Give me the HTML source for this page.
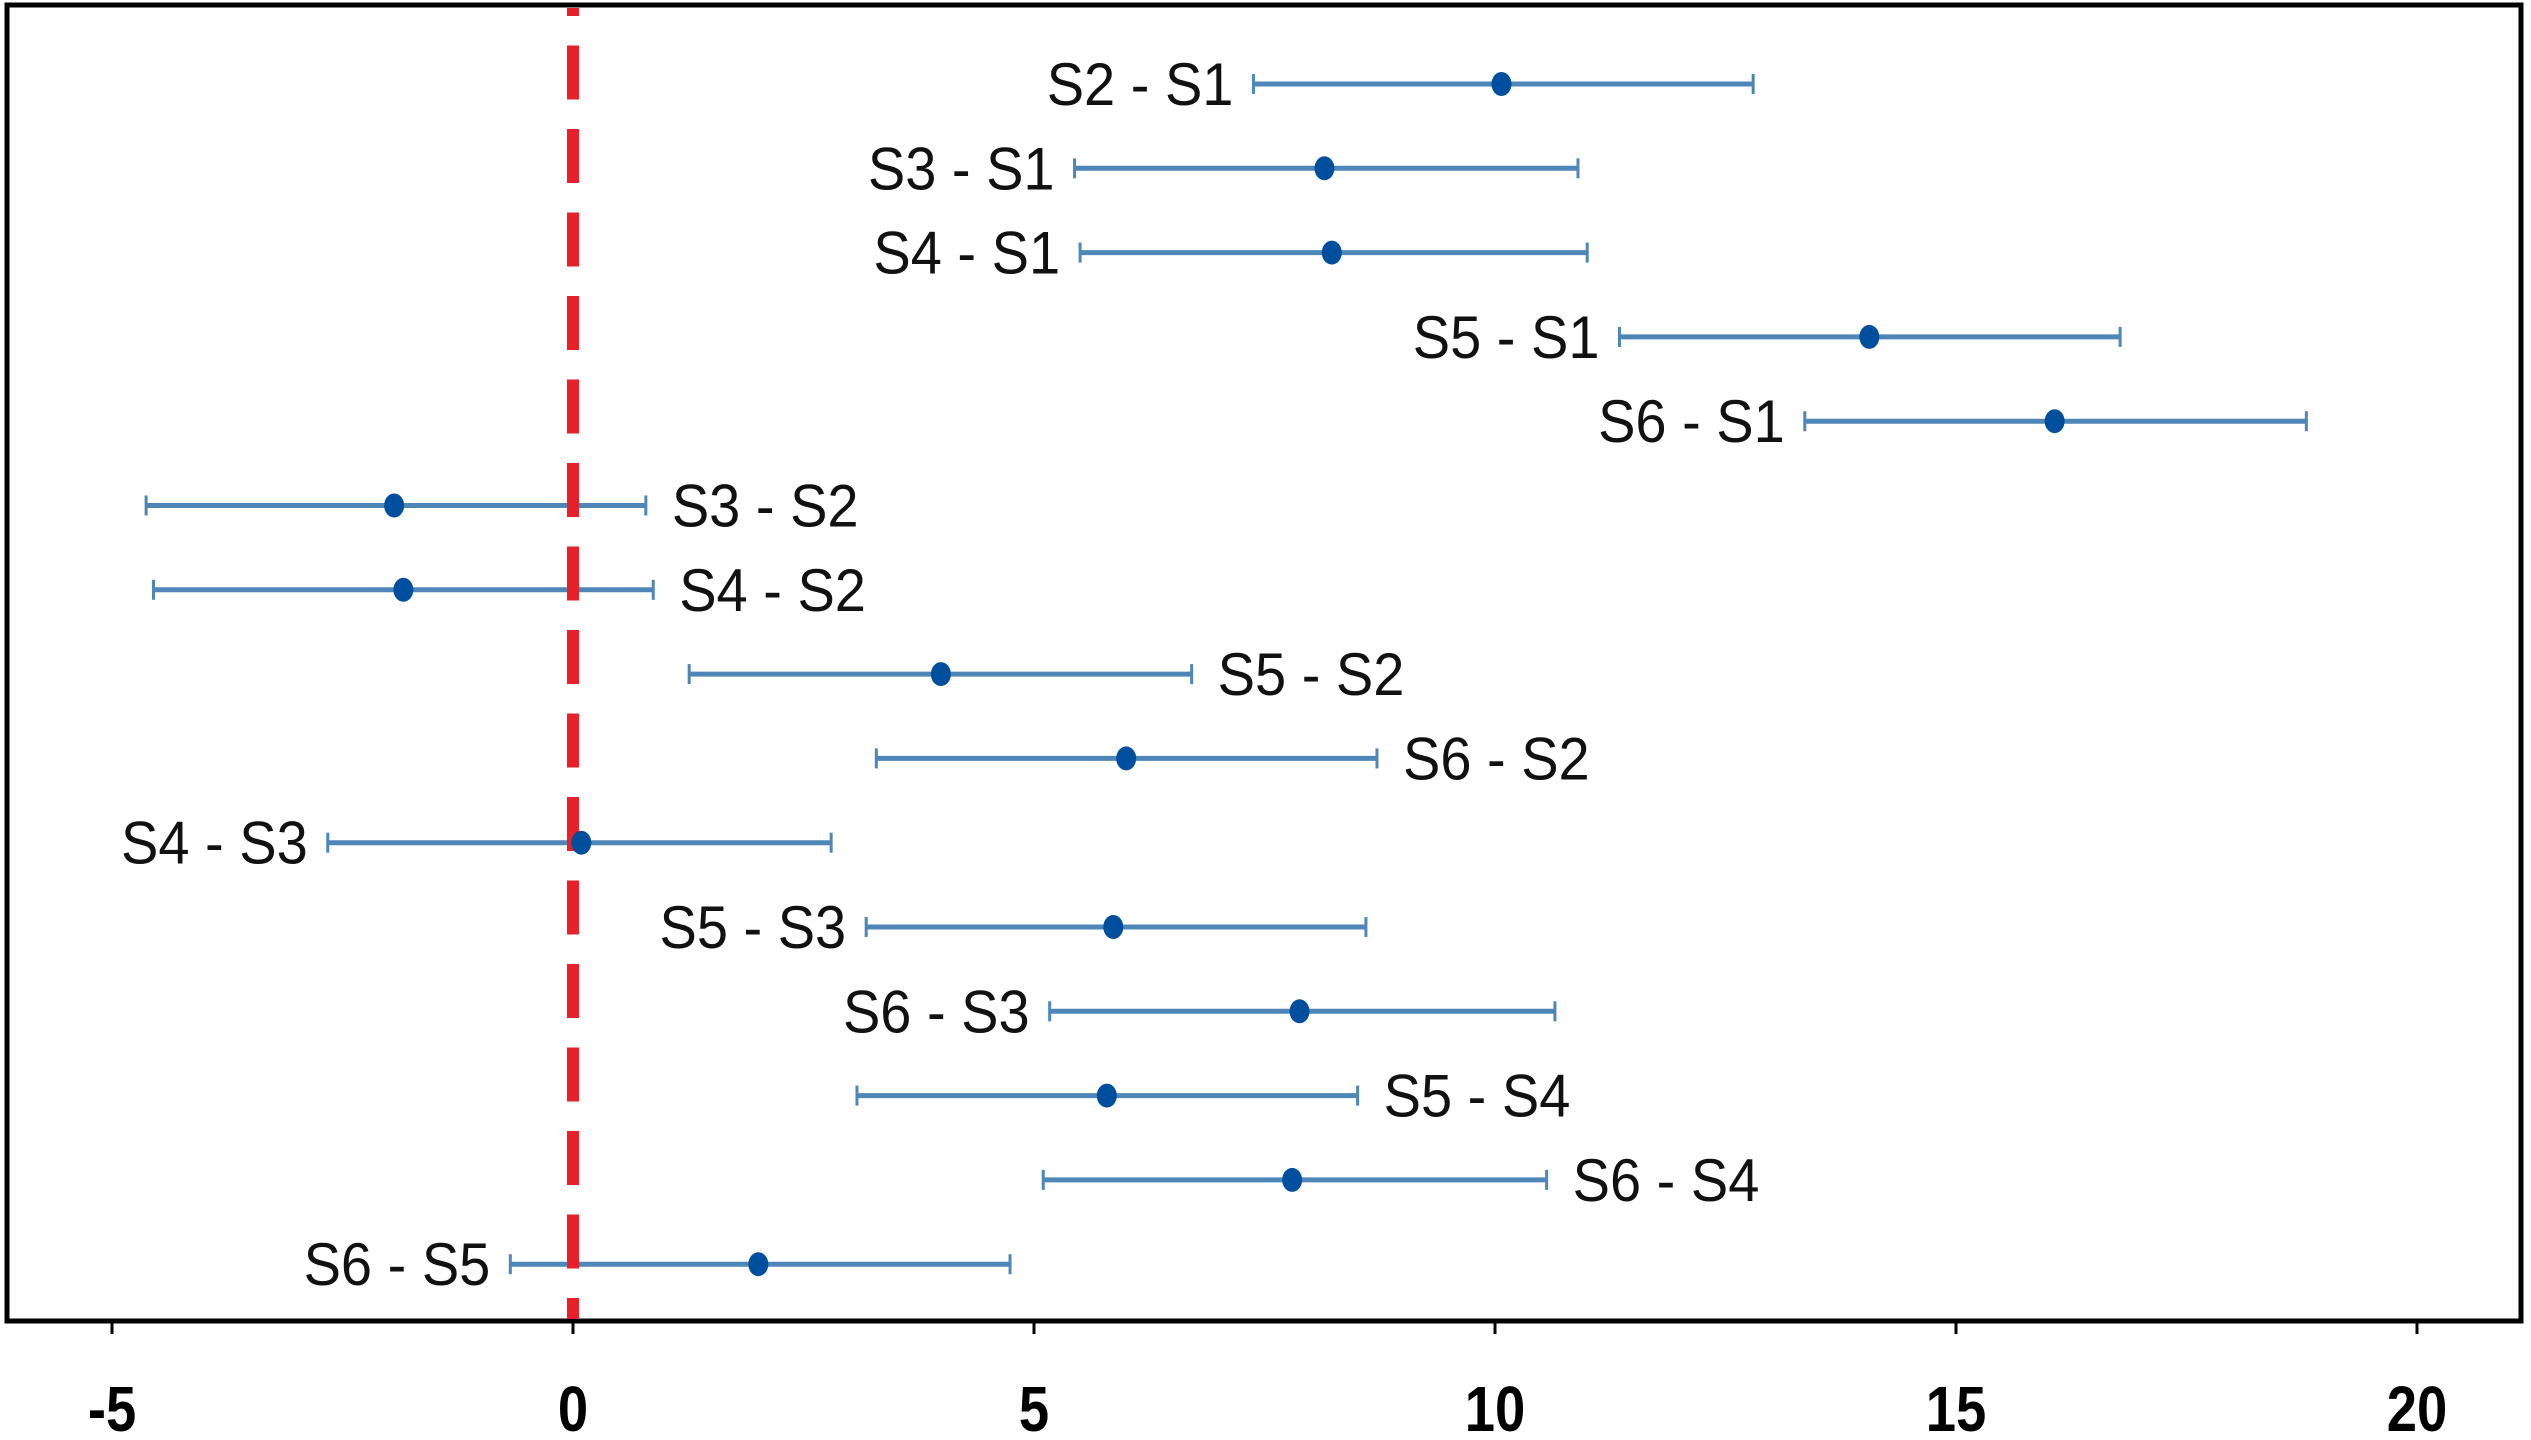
<!DOCTYPE html>
<html><head><meta charset="utf-8"><style>
html,body{margin:0;padding:0;background:#fff;}
svg{display:block;}
text{font-family:"Liberation Sans",sans-serif;}
</style></head><body>
<svg id="chart" width="2531" height="1440" viewBox="0 0 2531 1440">
<rect x="7" y="5" width="2514" height="1316" fill="none" stroke="#000" stroke-width="5"/>
<g id="ticks"></g>
<g id="bars"></g>
<line x1="573" y1="8" x2="573" y2="1319" stroke="#e8202a" stroke-width="12" stroke-dasharray="54 29.5" stroke-dashoffset="46"/>
<g id="markers"></g>
</svg>
<script>
const categories = ["S2 - S1","S3 - S1","S4 - S1","S5 - S1","S6 - S1","S3 - S2","S4 - S2","S5 - S2","S6 - S2","S4 - S3","S5 - S3","S6 - S3","S5 - S4","S6 - S4","S6 - S5"];
const means = [10.07,8.15,8.23,14.06,16.07,-1.94,-1.84,3.99,6.0,0.09,5.86,7.88,5.79,7.8,2.01];
const lowers = [7.38,5.44,5.5,11.35,13.36,-4.63,-4.55,1.26,3.29,-2.66,3.18,5.17,3.08,5.1,-0.68];
const uppers = [12.8,10.9,11.0,16.78,18.8,0.79,0.87,6.71,8.72,2.8,8.6,10.65,8.51,10.56,4.74];
const labelSides = ["L","L","L","L","L","R","R","R","R","L","L","L","R","R","L"];
const tickValues = [-5,0,5,10,15,20];
const tickLabels = ["-5","0","5","10","15","20"];

const NS = "http://www.w3.org/2000/svg";
function xScale(v){ return 573 + 92.2 * v; }
function yScale(i){ return 84 + 84.3 * i; }
function mk(tag, attrs, parent){
  const e = document.createElementNS(NS, tag);
  for (const k in attrs) e.setAttribute(k, attrs[k]);
  parent.appendChild(e); return e;
}
const tg = document.getElementById("ticks");
tickValues.forEach((v,i)=>{
  const x = xScale(v);
  const t = mk("line",{x1:x,y1:1321,x2:x,y2:1334,stroke:"#000","stroke-width":3},tg);
  
  
  const l = mk("text",{x:0,y:0,"text-anchor":"middle","font-size":64,"font-weight":"bold",fill:"#000",transform:"translate("+x+",1431) scale(0.85,1)"},tg);
  l.textContent = tickLabels[i];
  
  
});
const bg = document.getElementById("bars");
const mg = document.getElementById("markers");
categories.forEach((c,i)=>{
  const y = yScale(i), x1 = xScale(lowers[i]), x2 = xScale(uppers[i]), xm = xScale(means[i]);
  const ln = mk("line",{x1:x1,y1:y,x2:x2,y2:y,stroke:"#4f86b8","stroke-width":5},bg);
  
  
  [x1,x2].forEach(xx=>{
    const cap = mk("line",{x1:xx,y1:y-10,x2:xx,y2:y+10,stroke:"#4f86b8","stroke-width":3},bg);
    
    
  });
  const dot = mk("ellipse",{cx:xm,cy:y,rx:10,ry:12,fill:"#004f9e"},mg);
  
  
  const right = labelSides[i] === "R";
  const tx = mk("text",{x:0, y:0, "text-anchor": right ? "start" : "end", "font-size":56, fill:"#111", transform:"translate("+(right ? x2+26 : x1-20)+","+(y+21)+") scale(1,1.08)"},mg);
  tx.textContent = c;
  
  
});
</script>
</body></html>
